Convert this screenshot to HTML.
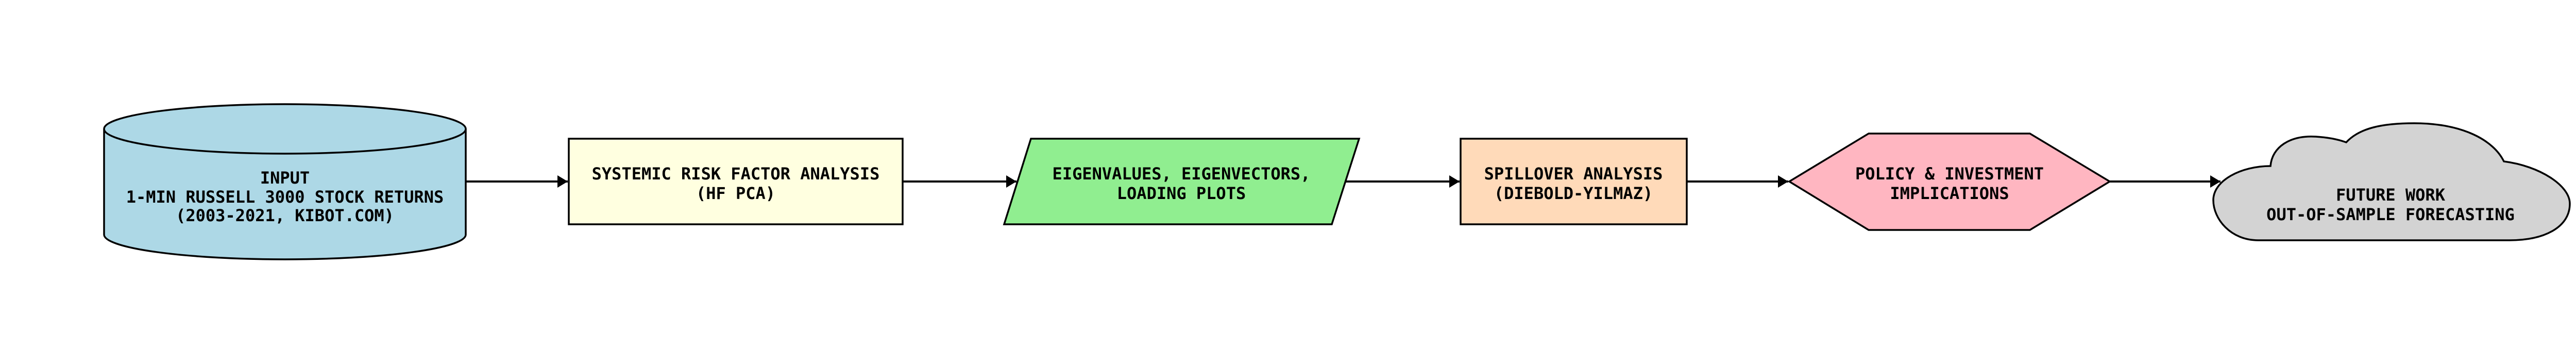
<!DOCTYPE html>
<html><head><meta charset="utf-8"><style>
html,body{margin:0;padding:0;background:#fff;}
svg{display:block;}
text{font-family:"DejaVu Sans Mono","Liberation Mono",monospace;font-weight:bold;font-size:32px;fill:#000;text-anchor:middle;dominant-baseline:central;}
</style></head><body>
<svg width="5192" height="704" viewBox="0 0 5192 704" xmlns="http://www.w3.org/2000/svg">
<defs>
<marker id="ah" markerWidth="22" markerHeight="24" refX="20" refY="12" orient="auto" markerUnits="userSpaceOnUse">
<path d="M0,0 L20,12 L0,24 Z" fill="#000"/>
</marker>
</defs>
<g stroke="#000" stroke-width="4" fill="none">
<line x1="904" y1="352" x2="1102" y2="352" marker-end="url(#ah)"/>
<line x1="1752" y1="352" x2="1973" y2="352" marker-end="url(#ah)"/>
<line x1="2611" y1="352" x2="2833" y2="352" marker-end="url(#ah)"/>
<line x1="3274" y1="352" x2="3471" y2="352" marker-end="url(#ah)"/>
<line x1="4095" y1="352" x2="4310" y2="352" marker-end="url(#ah)"/>
</g>
<g stroke="#000" stroke-width="3.5">
<!-- cylinder -->
<path d="M202,250 L202,455 A351,48 0 0 0 904,455 L904,250" fill="#add8e6"/>
<ellipse cx="553" cy="250" rx="351" ry="48" fill="#add8e6"/>
<rect x="1104" y="269" width="648" height="166" fill="#ffffe0"/>
<polygon points="2001,269 2638,269 2585,435 1949,435" fill="#90ee90"/>
<rect x="2835" y="269" width="439" height="166" fill="#ffdab9"/>
<polygon points="3473,352 3627,259 3940,259 4095,352 3940,446 3627,446" fill="#ffb6c1"/>
<path d="M4383,466 C4330,466 4296,425 4296,388 C4296,350 4350,322 4407,322 C4410,285 4445,262 4495,265 C4530,267 4548,274 4554,276 C4580,248 4625,239 4686,239 C4780,239 4840,272 4860,313 C4930,322 4988,360 4988,395 C4988,440 4940,466 4871,466 Z" fill="#d3d3d3"/>
</g>
<text x="553" y="345">INPUT</text>
<text x="553" y="382">1-MIN RUSSELL 3000 STOCK RETURNS</text>
<text x="553" y="418">(2003-2021, KIBOT.COM)</text>
<text x="1428" y="337">SYSTEMIC RISK FACTOR ANALYSIS</text>
<text x="1428" y="375">(HF PCA)</text>
<text x="2293" y="337">EIGENVALUES, EIGENVECTORS,</text>
<text x="2293" y="375">LOADING PLOTS</text>
<text x="3054" y="337">SPILLOVER ANALYSIS</text>
<text x="3054" y="375">(DIEBOLD-YILMAZ)</text>
<text x="3784" y="337">POLICY &amp; INVESTMENT</text>
<text x="3784" y="375">IMPLICATIONS</text>
<text x="4640" y="378">FUTURE WORK</text>
<text x="4640" y="416">OUT-OF-SAMPLE FORECASTING</text>
</svg>
</body></html>
